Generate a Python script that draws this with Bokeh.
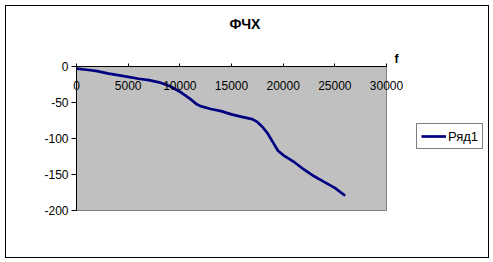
from bokeh.plotting import figure
from bokeh.models import (LinearAxis, FixedTicker, Range1d, Title, Legend, LegendItem,
                          ColumnDataSource, PrintfTickFormatter, InlineStyleSheet)
from bokeh.embed import file_html
from bokeh.resources import INLINE

title_text = "ФЧХ"
series_name = "Ряд1"
x_label = "f"

freq = [0, 1000, 2000, 3000, 4000, 5000, 6000, 7000, 8000, 9000, 10000, 11000, 11600,
        12000, 13000, 14000, 15000, 16000, 17000, 17500, 18000, 18500, 19000, 19500,
        20000, 21000, 22000, 23000, 24000, 25000, 26000]
phase = [-3, -4.5, -6.5, -9.5, -12, -14.5, -17, -19, -22, -27, -35, -45, -52,
         -55, -59, -62, -66.5, -70, -73, -77, -84, -93, -105, -117,
         -123, -132, -143, -152.5, -160.5, -168.5, -179.5]

x_ticks = [0, 5000, 10000, 15000, 20000, 25000, 30000]
y_ticks = [-200, -150, -100, -50, 0]

FONT = "Liberation Sans"

css = InlineStyleSheet(css=""":host::after { content: ''; position: absolute; left: 5px; top: 5px;
  width: 484px; height: 253px; border: 1px solid black; box-sizing: border-box;
  pointer-events: none; z-index: 10; }""")

p = figure(frame_width=310, frame_height=144, output_backend="svg", toolbar_location=None,
           x_range=Range1d(0, 30000), y_range=Range1d(-200, 0),
           x_axis_type=None, y_axis_type=None, title=None,
           min_border_left=76, min_border_right=107, min_border_top=66, min_border_bottom=52,
           stylesheets=[css])
p.background_fill_color = "#C0C0C0"
p.border_fill_color = "white"
p.outline_line_color = "#808080"
p.outline_line_width = 1
p.grid.visible = False

# y axis
yaxis = LinearAxis(ticker=FixedTicker(ticks=y_ticks), formatter=PrintfTickFormatter(format="%d"))
yaxis.major_tick_out = 5
yaxis.major_tick_in = 0
yaxis.minor_tick_out = 0
yaxis.minor_tick_in = 0
yaxis.major_label_standoff = 3
yaxis.major_label_text_font = FONT
yaxis.major_label_text_font_size = "12px"
yaxis.major_label_text_color = "black"
yaxis.axis_line_color = "black"
p.add_layout(yaxis, "left")

# x axis on the top edge (y = 0), labels pushed below the line
xaxis = LinearAxis(ticker=FixedTicker(ticks=x_ticks), formatter=PrintfTickFormatter(format="%d"))
xaxis.major_tick_out = 3
xaxis.major_tick_in = 0
xaxis.minor_tick_out = 0
xaxis.minor_tick_in = 0
xaxis.major_label_standoff = -26
xaxis.major_label_text_font = FONT
xaxis.major_label_text_font_size = "12px"
xaxis.major_label_text_color = "black"
xaxis.axis_line_color = "black"
p.add_layout(xaxis, "above")

p.add_layout(Title(text=x_label, align="right", offset=-12, standoff=2, text_color="black",
                   text_font=FONT, text_font_size="12px", text_font_style="bold"), "above")
p.add_layout(Title(text=title_text, align="left", offset=153, standoff=30, vertical_align="top",
                   text_color="black",
                   text_font=FONT, text_font_size="14px", text_font_style="bold"), "above")

src = ColumnDataSource(data=dict(f=freq, v=phase))
r = p.line("f", "v", source=src, line_color="#000080", line_width=2.7)

legend = Legend(items=[LegendItem(label=series_name, renderers=[r])], location=(30, 61))
legend.border_line_color = "black"
legend.border_line_width = 1
legend.background_fill_color = "white"
legend.background_fill_alpha = 1
legend.padding = 4
legend.margin = 0
legend.spacing = 0
legend.glyph_width = 25
legend.glyph_height = 16
legend.label_height = 16
legend.label_standoff = 2
legend.label_text_font = FONT
legend.label_text_font_size = "13px"
legend.label_text_color = "black"
p.add_layout(legend, "right")

open("out.html", "w").write(file_html(p, INLINE))
